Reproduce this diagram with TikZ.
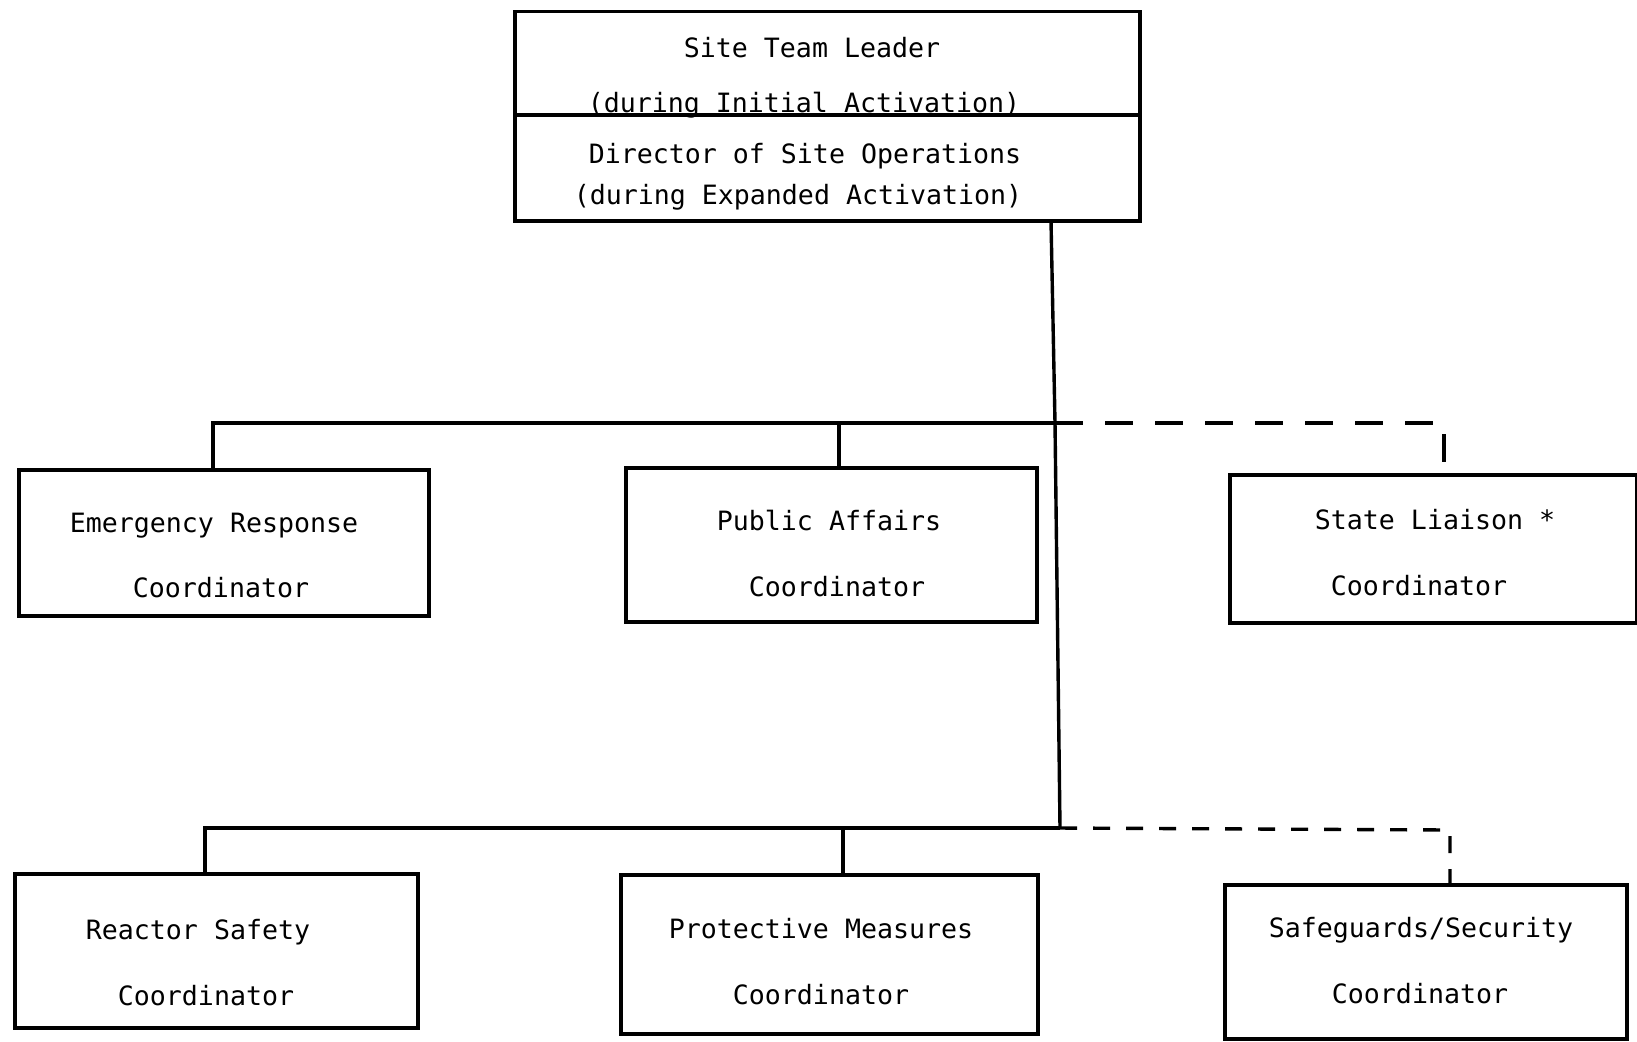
\documentclass[tikz,border=0pt]{standalone}
\usepackage{fontspec}
\newfontfamily\orgfont{DejaVu Sans Mono}
\usetikzlibrary{fit}
\begin{document}
\begin{tikzpicture}[x=0.5pt,y=-0.5pt,
  box/.style={draw, line width=1.7pt, inner sep=0pt, rectangle},
  lbl/.style={anchor=base, inner sep=0pt, font=\orgfont\fontsize{13.3pt}{16pt}\selectfont},
  link/.style={line width=1.7pt},
  linkdash/.style={line width=1.7pt, dash pattern=on 14pt off 11pt},
  linkdashb/.style={line width=1.7pt, dash pattern=on 8.5pt off 8pt}]
\useasboundingbox (0,0) rectangle (1637,1041);

% top box, split in two
\node[box, fit={(515,11.5) (1140,115)}] (stl) {};
\node[box, fit={(515,115) (1140,221)}] (dso) {};
\node[lbl] (stl-a) at (812,57) {Site Team Leader};
\node[lbl] (stl-b) at (804,112) {(during Initial Activation)};
\node[lbl] (dso-a) at (805,163) {Director of Site Operations};
\node[lbl] (dso-b) at (798,204) {(during Expanded Activation)};

% first row of coordinators
\node[box, fit={(19,470) (429,616)}] (erc) {};
\node[box, fit={(626,468) (1037,622)}] (pac) {};
\node[box, fit={(1230,475) (1637,623)}] (slc) {};
\node[lbl] (erc-a) at (214,532) {Emergency Response};
\node[lbl] (erc-b) at (221,597) {Coordinator};
\node[lbl] (pac-a) at (829,530) {Public Affairs};
\node[lbl] (pac-b) at (837,596) {Coordinator};
\node[lbl] (slc-a) at (1435,529) {State Liaison *};
\node[lbl] (slc-b) at (1419,595) {Coordinator};

% second row of coordinators
\node[box, fit={(15,874) (418,1028)}] (rsc) {};
\node[box, fit={(621,875) (1038,1034)}] (pmc) {};
\node[box, fit={(1225,885) (1627,1039)}] (ssc) {};
\node[lbl] (rsc-a) at (198,939) {Reactor Safety};
\node[lbl] (rsc-b) at (206,1005) {Coordinator};
\node[lbl] (pmc-a) at (821,938) {Protective Measures};
\node[lbl] (pmc-b) at (821,1004) {Coordinator};
\node[lbl] (ssc-a) at (1421,937) {Safeguards/Security};
\node[lbl] (ssc-b) at (1420,1003) {Coordinator};

% junction points of the connectors
\coordinate (t0) at (1051,221);
\coordinate (j1) at (1055,423);
\coordinate (j2) at (1060,828);
\coordinate (b1) at (213,423);
\coordinate (p1) at (839,423);
\coordinate (d1) at (1444,423);
\coordinate (b2) at (205,828);
\coordinate (p2) at (843,828);
\coordinate (d2) at (1450,830);

% trunk and buses
\draw[link] (t0) -- (j1) -- (j2);
\draw[link] (b1 |- erc.north) -- (b1) -- (j1);
\draw[link] (p1) -- (p1 |- pac.north);
\draw[linkdash] (j1) -- (d1) -- (d1 |- slc.north);
\draw[link] (b2 |- rsc.north) -- (b2) -- (j2);
\draw[link] (p2) -- (p2 |- pmc.north);
\draw[linkdashb] (j2) -- (d2) -- (d2 |- ssc.north);
\end{tikzpicture}
\end{document}
